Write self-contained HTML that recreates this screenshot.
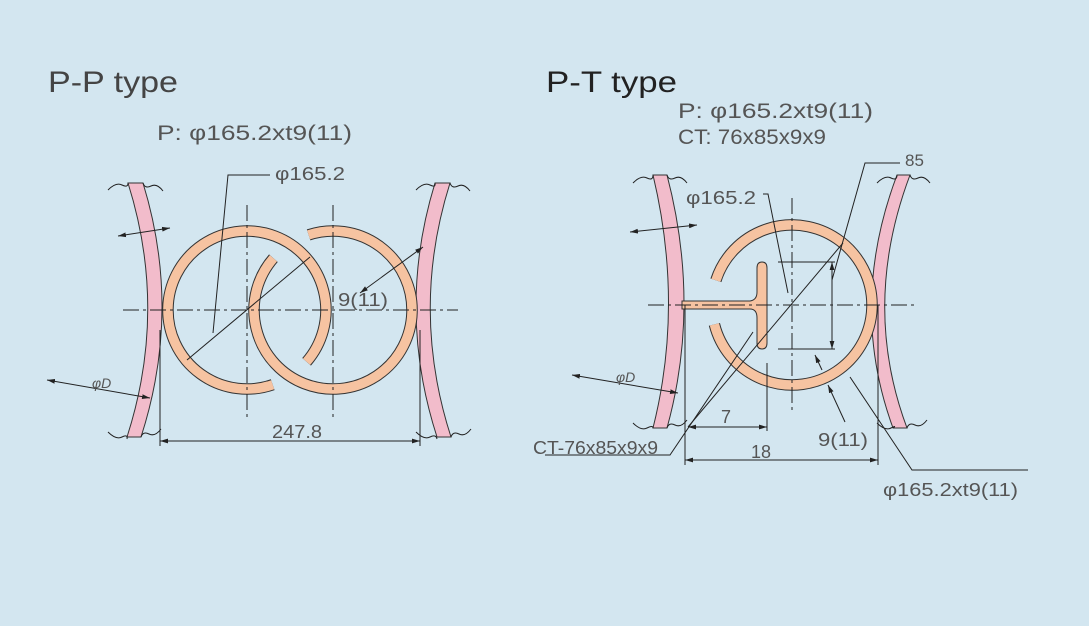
<!DOCTYPE html>
<html><head><meta charset="utf-8"><style>
html,body{margin:0;padding:0;background:#d3e6f0;}
svg{display:block}
.t{font-family:"Liberation Sans",sans-serif;fill:#555;}
</style></head><body>
<svg width="1089" height="626" viewBox="0 0 1089 626" xmlns="http://www.w3.org/2000/svg">
<rect width="1089" height="626" fill="#d3e6f0"/>
<defs>
<marker id="a" viewBox="0 0 10 6" refX="10" refY="3" markerWidth="8" markerHeight="5" orient="auto-start-reverse"><path d="M0,0 L10,3 L0,6 Z" fill="#222"/></marker>
</defs>
<text x="48" y="92" font-family="Liberation Sans,sans-serif" font-size="30" fill="#444" textLength="130" lengthAdjust="spacingAndGlyphs">P-P type</text>
<text x="546" y="92" font-family="Liberation Sans,sans-serif" font-size="30" fill="#222" textLength="131" lengthAdjust="spacingAndGlyphs">P-T type</text>
<text class="t" x="157" y="140" font-size="21" textLength="195" lengthAdjust="spacingAndGlyphs">P: φ165.2xt9(11)</text>
<text class="t" x="678" y="118" font-size="21" textLength="195" lengthAdjust="spacingAndGlyphs">P: φ165.2xt9(11)</text>
<text class="t" x="678" y="144" font-size="21" textLength="148" lengthAdjust="spacingAndGlyphs">CT: 76x85x9x9</text>

<g stroke="#222" stroke-width="1" fill="none">
<path d="M128,183 Q168,310 127,437 L141,437 Q182,310 143,183 Z" fill="#f2bccb" stroke="#333"/>
<path d="M450,183 Q410,310 451,437 L437,437 Q396,310 435,183 Z" fill="#f2bccb" stroke="#333"/>
<path d="M108,190 q8,-8 14,-5 q6,3 6,-2 M143,183 q2,6 8,3 q6,-3 12,5"/>
<path d="M108,432 q8,8 14,5 q6,-3 5,2 M141,437 q2,-6 8,-3 q6,3 12,-5"/>
<path d="M416,190 q8,-8 14,-5 q6,3 5,-2 M450,183 q2,6 8,3 q6,-3 12,5"/>
<path d="M416,432 q8,8 14,5 q6,-3 7,2 M451,437 q2,-6 8,-3 q6,3 12,-5"/>
</g>
<path d="M272.7,384.7 A79,79 0 1 1 306.6,361.8" fill="none" stroke="#333" stroke-width="11.5"/>
<path d="M272.7,384.7 A79,79 0 1 1 306.6,361.8" fill="none" stroke="#f6c3a1" stroke-width="9.5"/>
<path d="M308.6,234.9 A79,79 0 1 1 273.4,258.2" fill="none" stroke="#333" stroke-width="11.5"/>
<path d="M308.6,234.9 A79,79 0 1 1 273.4,258.2" fill="none" stroke="#f6c3a1" stroke-width="9.5"/>
<g stroke="#222" stroke-width="1" fill="none">
<path d="M123,310 H458" stroke-dasharray="16,4,3,4"/>
<path d="M247,205 V418 M333,205 V418" stroke-dasharray="16,4,3,4"/>
<path d="M160,330 V446 M420,330 V446"/>
<path d="M160,441 H420" marker-start="url(#a)" marker-end="url(#a)"/>
<path d="M187,360 L310,257"/>
<path d="M213,333 L228,175 H270"/>
<path d="M360,293 L423,247" marker-start="url(#a)" marker-end="url(#a)"/>
<path d="M47,380 L150,398" marker-start="url(#a)" marker-end="url(#a)"/>
<path d="M118,236 L170,228" marker-start="url(#a)" marker-end="url(#a)"/>
</g>
<text class="t" x="275" y="180" font-size="18" textLength="70" lengthAdjust="spacingAndGlyphs">φ165.2</text>
<text class="t" x="338" y="306" font-size="18" textLength="50" lengthAdjust="spacingAndGlyphs">9(11)</text>
<text class="t" x="272" y="438" font-size="18" textLength="50" lengthAdjust="spacingAndGlyphs">247.8</text>
<text class="t" x="92" y="388" font-size="14" font-style="italic">φD</text>

<g stroke="#222" stroke-width="1" fill="none">
<path d="M653,175 Q684,305 653,428 L667,428 Q701,305 667,175 Z" fill="#f2bccb" stroke="#333"/>
<path d="M910,175 Q861,305 907,428 L893,428 Q848,305 897,175 Z" fill="#f2bccb" stroke="#333"/>
<path d="M633,183 q8,-8 14,-5 q6,3 6,-3 M667,175 q2,6 8,3 q6,-3 12,5"/>
<path d="M633,423 q8,8 14,5 q6,-3 6,0 M667,428 q2,-6 8,-3 q6,3 12,-5"/>
<path d="M877,183 q8,-8 14,-5 q6,3 6,-3 M910,175 q2,6 8,3 q6,-3 12,5"/>
<path d="M877,423 q8,8 14,5 q6,-3 2,0 M907,428 q2,-6 8,-3 q6,3 12,-5"/>
</g>
<path d="M715.9,280.3 A80,80 0 1 1 714.4,324.4" fill="none" stroke="#333" stroke-width="11.5"/>
<path d="M715.9,280.3 A80,80 0 1 1 714.4,324.4" fill="none" stroke="#f6c3a1" stroke-width="9.5"/>
<path d="M682,301 L750,301 Q757,300 757,292 L757,268 Q757,262 762,262 Q767,262 767,268 L767,343 Q767,349 762,349 Q757,349 757,343 L757,318 Q757,309 750,309 L682,309 Z" fill="#f6c3a1" stroke="#333" stroke-width="1"/>
<g stroke="#222" stroke-width="1" fill="none">
<path d="M648,305 H915" stroke-dasharray="16,4,3,4"/>
<path d="M792,198 V410" stroke-dasharray="16,4,3,4"/>
<path d="M778,262 H835 M778,349 H835"/>
<path d="M832,262 V349" marker-start="url(#a)" marker-end="url(#a)"/>
<path d="M832,280 L865,163 H900"/>
<path d="M688,427 L843,243"/>
<path d="M545,455 H670 L753,332" />
<path d="M763,194 H768 L788,293"/>
<path d="M767,363 V431"/>
<path d="M688,427 H767" marker-start="url(#a)" marker-end="url(#a)"/>
<path d="M685,305 V465 M878,305 V465"/>
<path d="M685,460 H878" marker-start="url(#a)" marker-end="url(#a)"/>
<path d="M815,355 L822,370" marker-start="url(#a)"/>
<path d="M828,385 L845,422" marker-start="url(#a)"/>
<path d="M850,377 L912,470 H1028"/>
<path d="M572,375 L678,393" marker-start="url(#a)" marker-end="url(#a)"/>
<path d="M630,232 L697,225" marker-start="url(#a)" marker-end="url(#a)"/>
</g>
<text class="t" x="905" y="166" font-size="17">85</text>
<text class="t" x="686" y="204" font-size="18" textLength="70" lengthAdjust="spacingAndGlyphs">φ165.2</text>
<text class="t" x="533" y="454" font-size="18" textLength="125" lengthAdjust="spacingAndGlyphs">CT-76x85x9x9</text>
<text class="t" x="721" y="423" font-size="18">7</text>
<text class="t" x="751" y="458" font-size="18">18</text>
<text class="t" x="818" y="446" font-size="18" textLength="50" lengthAdjust="spacingAndGlyphs">9(11)</text>
<text class="t" x="883" y="496" font-size="18" textLength="135" lengthAdjust="spacingAndGlyphs">φ165.2xt9(11)</text>
<text class="t" x="616" y="382" font-size="14" font-style="italic">φD</text>
</svg>
</body></html>
